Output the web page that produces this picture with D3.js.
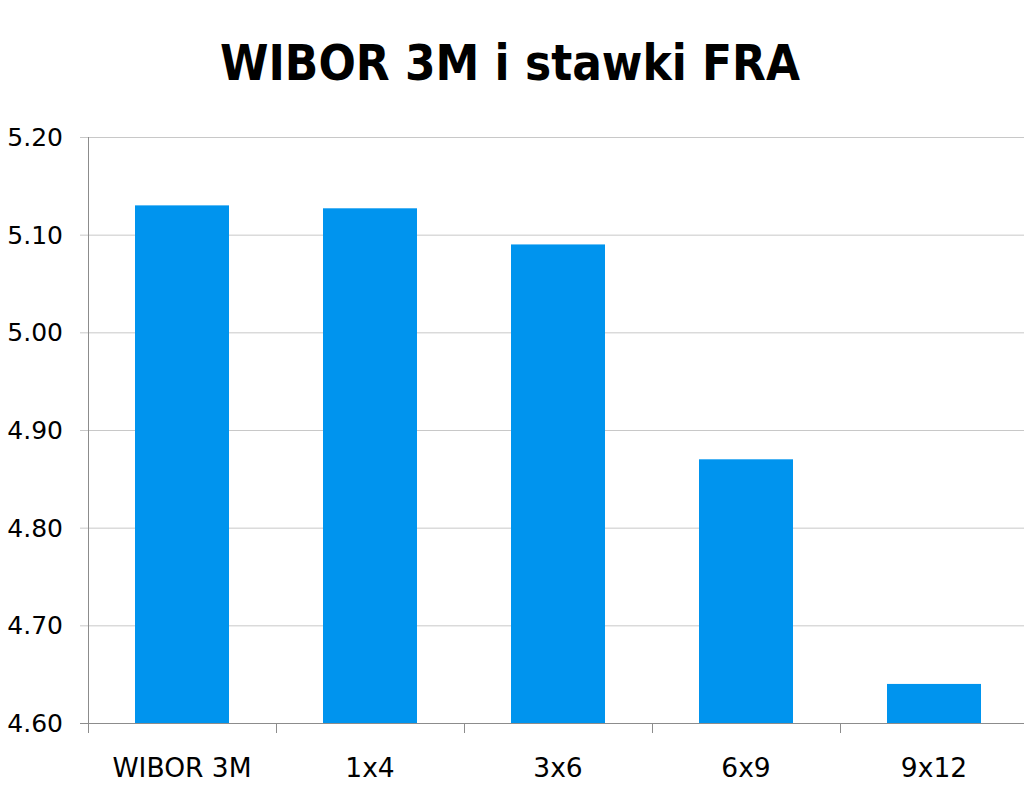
<!DOCTYPE html>
<html lang="pl">
<head>
<meta charset="UTF-8">
<script src="https://cdn.jsdelivr.net/npm/d3@7"></script>
<style>
  body { margin: 0; background: #fff; }
  text { font-family: Tahoma, "DejaVu Sans", Verdana, sans-serif; fill: #000; }
</style>
</head>
<body>
<script>
// ---- data ----
const categories = ["WIBOR 3M", "1x4", "3x6", "6x9", "9x12"];
const rates = [5.13, 5.127, 5.09, 4.87, 4.64];
const yTicks = [4.60, 4.70, 4.80, 4.90, 5.00, 5.10, 5.20];
const title = "WIBOR 3M i stawki FRA";

// ---- layout ----
const width = 1024, height = 791;
const plot = { left: 88, right: 1028, top: 137, bottom: 723 };

const svg = d3.select("body").append("svg")
    .attr("width", width)
    .attr("height", height);

const x = d3.scaleBand()
    .domain(categories)
    .range([plot.left, plot.right])
    .paddingInner(0.5)
    .paddingOuter(0.25);

const y = d3.scaleLinear()
    .domain([4.6, 5.2])
    .range([plot.bottom, plot.top]);

// gridlines
svg.append("g")
    .selectAll("line")
    .data(yTicks)
    .enter()
    .append("line")
    .attr("x1", plot.left - 8)
    .attr("x2", width)
    .attr("y1", d => y(d) + 0.5)
    .attr("y2", d => y(d) + 0.5)
    .attr("stroke", d => d === 4.6 ? "#8c8c8c" : "#c8c8c8")
    .attr("stroke-width", 1);

// bars
svg.append("g")
    .selectAll("rect")
    .data(rates)
    .enter()
    .append("rect")
    .attr("x", (d, i) => x(categories[i]))
    .attr("width", x.bandwidth())
    .attr("y", d => y(d))
    .attr("height", d => y(4.6) - y(d))
    .attr("fill", "#0094ee");

// y axis line
svg.append("line")
    .attr("x1", plot.left + 0.5).attr("x2", plot.left + 0.5)
    .attr("y1", plot.top).attr("y2", plot.bottom + 1)
    .attr("stroke", "#8c8c8c");

// y labels
svg.append("g")
    .selectAll("text")
    .data(yTicks)
    .enter()
    .append("text")
    .attr("x", 63)
    .attr("y", d => y(d))
    .attr("dy", "0.36em")
    .attr("text-anchor", "end")
    .style("font-size", "25px")
    .text(d => d3.format(".2f")(d));

// x tick marks between categories
const step = x.step();
svg.append("g")
    .selectAll("line")
    .data(d3.range(categories.length + 1))
    .enter()
    .append("line")
    .attr("x1", i => plot.left + i * step + 0.5)
    .attr("x2", i => plot.left + i * step + 0.5)
    .attr("y1", plot.bottom)
    .attr("y2", plot.bottom + 10)
    .attr("stroke", "#8c8c8c");

// x labels
svg.append("g")
    .selectAll("text")
    .data(categories)
    .enter()
    .append("text")
    .attr("x", d => x(d) + x.bandwidth() / 2)
    .attr("y", 777)
    .attr("text-anchor", "middle")
    .style("font-size", "26.5px")
    .text(d => d);

// title
svg.append("text")
    .attr("x", 510)
    .attr("y", 80)
    .attr("text-anchor", "middle")
    .attr("textLength", 580)
    .attr("lengthAdjust", "spacingAndGlyphs")
    .style("font-size", "50px")
    .style("font-weight", "bold")
    .text(title);
</script>
</body>
</html>
